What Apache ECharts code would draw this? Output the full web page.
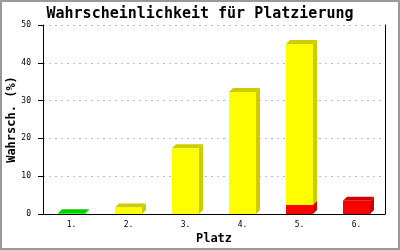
<!DOCTYPE html>
<html>
<head>
<meta charset="utf-8">
<script src="https://cdn.jsdelivr.net/npm/echarts@6/dist/echarts.min.js"></script>
<style>
html,body{margin:0;padding:0;background:#fff;}
#chart{width:400px;height:250px;}
</style>
</head>
<body>
<div id="chart"></div>
<script>
const categories = ['1.', '2.', '3.', '4.', '5.', '6.'];
const redValues = [0, 0, 0, 0, 2.4, 3.5];
const yellowValues = [0, 1.7, 17.4, 32.3, 42.6, 0];
const greenValues = [0.2, 0, 0, 0, 0, 0];
const yMin = 0, yMax = 50, yInterval = 10;

const layers = [
  {name: 'rot', values: redValues, front: '#ff0000', dark: '#cc0000'},
  {name: 'gelb', values: yellowValues, front: '#ffff00', dark: '#cccc00'},
  {name: 'gruen', values: greenValues, front: '#00ff00', dark: '#00cc00'}
];

const cum = categories.map(() => 0);
const series = layers.map(l => {
  const data = l.values.map((v, i) => {
    const b = cum[i];
    cum[i] += v;
    return [i, b, b + v];
  });
  return {
    type: 'custom',
    name: l.name,
    data: data,
    encode: {x: 0, y: [1, 2]},
    renderItem: function (params, api) {
      const idx = api.value(0), base = api.value(1), top = api.value(2);
      if (!(top > base)) return null;
      const pb = api.coord([idx, base]);
      const pt = api.coord([idx, top]);
      const w = api.size([1, 0])[0] * 0.475;
      const x0 = Math.round(pb[0] - w / 2), x1 = Math.round(pb[0] + w / 2);
      const yb = pb[1], yt = pt[1];
      const d = 4;
      return {
        type: 'group',
        children: [
          {type: 'polygon', shape: {points: [[x1, yb], [x1 + d, yb - d], [x1 + d, yt - d], [x1, yt]]}, style: {fill: l.dark}},
          {type: 'polygon', shape: {points: [[x0, yt], [x0 + d, yt - d], [x1 + d, yt - d], [x1, yt]]}, style: {fill: l.dark}},
          {type: 'rect', shape: {x: x0, y: yt, width: x1 - x0, height: yb - yt}, style: {fill: l.front}}
        ]
      };
    }
  };
});

const mono = '"DejaVu Sans Mono", "Liberation Mono", monospace';
const chart = echarts.init(document.getElementById('chart'), null, {renderer: 'canvas'});
chart.setOption({
  backgroundColor: '#ffffff',
  animation: false,
  title: {
    text: 'Wahrscheinlichkeit für Platzierung',
    left: 'center', top: 2,
    textStyle: {fontFamily: mono, fontWeight: 'bold', fontSize: 15, color: '#000'}
  },
  grid: {left: 43, right: 15, top: 25, bottom: 36, containLabel: false, outerBoundsMode: 'none'},
  xAxis: {
    type: 'category',
    data: categories,
    name: 'Platz',
    nameLocation: 'middle',
    nameGap: 19,
    nameMoveOverlap: false,
    nameTextStyle: {fontFamily: mono, fontWeight: 'bold', fontSize: 12, color: '#000', verticalAlign: 'top'},
    axisLine: {show: true, lineStyle: {color: '#000', width: 1}},
    axisTick: {show: false},
    axisLabel: {fontFamily: mono, fontSize: 8, color: '#000', margin: 7},
    splitLine: {show: false}
  },
  yAxis: [{
    type: 'value',
    min: yMin, max: yMax, interval: yInterval,
    name: 'Wahrsch. (%)',
    nameLocation: 'middle',
    nameGap: 25,
    nameMoveOverlap: false,
    nameTextStyle: {fontFamily: mono, fontWeight: 'bold', fontSize: 12, color: '#000'},
    axisLine: {show: true, lineStyle: {color: '#000', width: 1}},
    axisTick: {show: true, length: 5, lineStyle: {color: '#000'}},
    axisLabel: {fontFamily: mono, fontSize: 8, color: '#000', margin: 12},
    splitLine: {show: true, lineStyle: {color: '#bbbbbb', type: [2, 4], width: 1}}
  }, {
    type: 'value',
    position: 'right',
    min: yMin, max: yMax, interval: yInterval,
    axisLine: {show: true, lineStyle: {color: '#000', width: 1}},
    axisTick: {show: false},
    axisLabel: {show: false},
    splitLine: {show: false}
  }],
  graphic: [{
    type: 'rect',
    shape: {x: 1, y: 1, width: 398, height: 248},
    style: {fill: 'none', stroke: '#999999', lineWidth: 2},
    silent: true
  }],
  series: series
});
</script>
</body>
</html>
